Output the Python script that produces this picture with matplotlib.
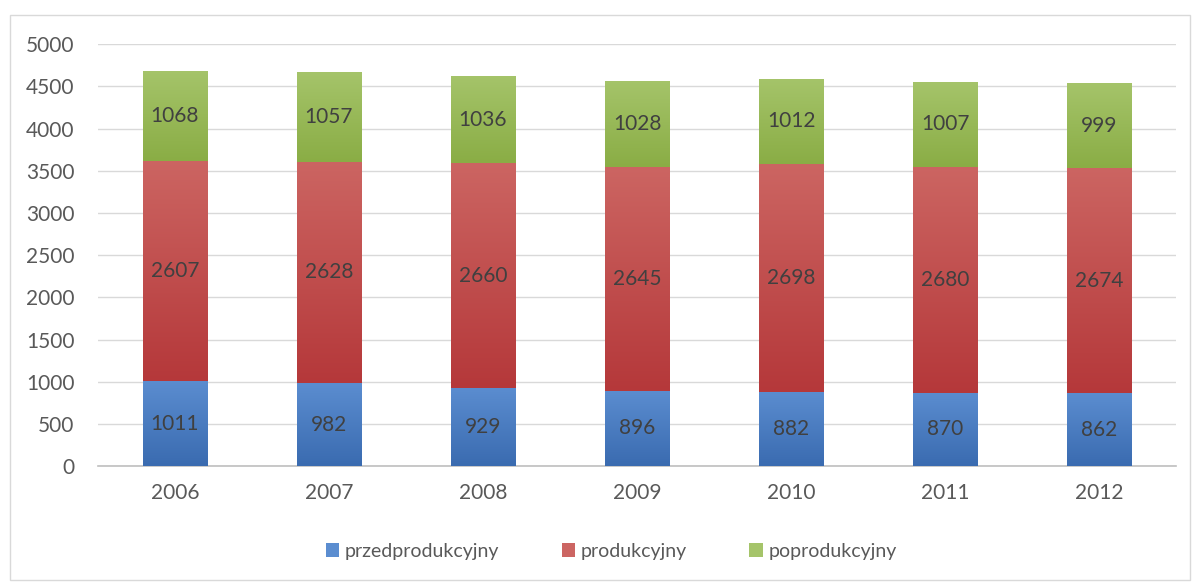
import matplotlib.pyplot as plt
import numpy as np
from matplotlib.colors import LinearSegmentedColormap
from matplotlib.patches import Rectangle

plt.rcParams["font.family"] = ["Lato", "DejaVu Sans"]

years = ["2006", "2007", "2008", "2009", "2010", "2011", "2012"]
przed = [1011, 982, 929, 896, 882, 870, 862]
prod = [2607, 2628, 2660, 2645, 2698, 2680, 2674]
poprod = [1068, 1057, 1036, 1028, 1012, 1007, 999]

series = [
    ("przedprodukcyjny", przed, ("#5B8DD0", "#3A6BB0")),
    ("produkcyjny", prod, ("#CC6562", "#B5383A")),
    ("poprodukcyjny", poprod, ("#A5C46A", "#8AAD45")),
]

fig = plt.figure(figsize=(11.94, 5.82), dpi=100, facecolor="white")
ax = fig.add_axes([0.082, 0.199, 0.903, 0.725])

# light frame around the whole chart
fig.patches.append(Rectangle((10 / 1194, 2 / 582), 1180 / 1194, 565 / 582,
                             transform=fig.transFigure, fill=False,
                             edgecolor="#D9D9D9", linewidth=1.0))

x = np.arange(len(years))
width = 0.42
grad = np.linspace(0, 1, 256).reshape(-1, 1)
bottom = np.zeros(len(years))
handles = []
for name, vals, (top_c, bot_c) in series:
    cmap = LinearSegmentedColormap.from_list(name, [bot_c, top_c])
    bars = ax.bar(x, vals, width, bottom=bottom, color=top_c, edgecolor="none",
                  zorder=2)
    for b in bars:
        x0, y0 = b.get_x(), b.get_y()
        im = ax.imshow(grad, cmap=cmap, origin="lower", aspect="auto",
                       extent=(x0, x0 + b.get_width(), y0, y0 + b.get_height()),
                       zorder=3)
        im.set_clip_path(b)
    for xi, v, bt in zip(x, vals, bottom):
        ax.text(xi, bt + v / 2, str(v), ha="center", va="center",
                fontsize=15, color="#404040", zorder=4)
    handles.append(Rectangle((0, 0), 1, 1, facecolor=top_c, edgecolor="none"))
    bottom += np.array(vals)

ax.set_xlim(-0.5, len(years) - 0.5)
ax.set_ylim(0, 5000)
ax.set_yticks(np.arange(0, 5001, 500))
ax.set_xticks(x)
ax.set_xticklabels(years)
ax.yaxis.grid(True, color="#D9D9D9", linewidth=1.0, zorder=0)
ax.set_axisbelow(True)
for s in ["top", "right", "left"]:
    ax.spines[s].set_visible(False)
ax.spines["bottom"].set_color("#BFBFBF")
ax.spines["bottom"].set_linewidth(1.2)
ax.tick_params(axis="both", length=0, labelsize=15, colors="#595959")
ax.tick_params(axis="y", pad=17)
ax.tick_params(axis="x", pad=12)

fig.legend(handles, [s[0] for s in series], loc="center", ncol=3,
           bbox_to_anchor=(0.512, 0.053), frameon=False, fontsize=14,
           handlelength=0.7, handleheight=0.7, handletextpad=0.3,
           columnspacing=3.2, labelcolor="#595959")

fig.savefig("out.png", dpi=100, facecolor="white")
